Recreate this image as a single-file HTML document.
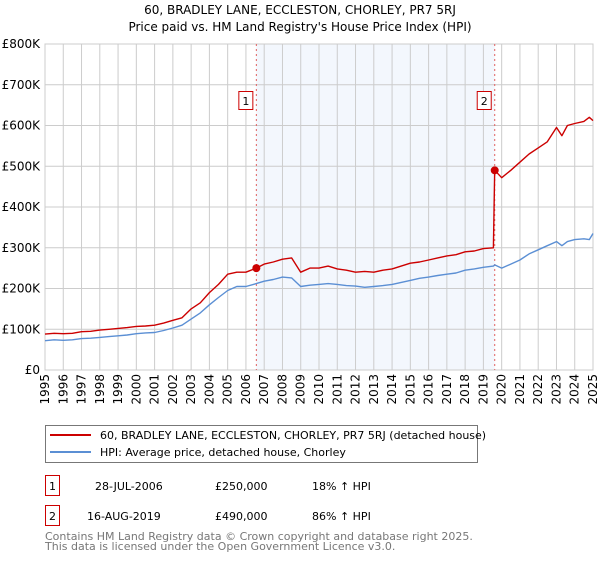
<!DOCTYPE html>
<html><head><meta charset="utf-8"><style>
body{margin:0;background:#fff;font-family:"DejaVu Sans","Liberation Sans",sans-serif;}
svg text{font-family:"DejaVu Sans","Liberation Sans",sans-serif;}
</style></head><body>
<svg id="chart" width="600" height="560" xmlns="http://www.w3.org/2000/svg">
<text x="300" y="14" text-anchor="middle" font-size="12">60, BRADLEY LANE, ECCLESTON, CHORLEY, PR7 5RJ</text>
<text x="300" y="31" text-anchor="middle" font-size="12">Price paid vs. HM Land Registry's House Price Index (HPI)</text>
<g id="plot"></g>
<g>
<rect x="45.5" y="425.5" width="432" height="37" fill="#fff" stroke="#777"/>
<line x1="50" y1="435" x2="91" y2="435" stroke="#cc0000" stroke-width="2"/>
<text x="100" y="439" font-size="11">60, BRADLEY LANE, ECCLESTON, CHORLEY, PR7 5RJ (detached house)</text>
<line x1="50" y1="452" x2="91" y2="452" stroke="#5b8fd4" stroke-width="2"/>
<text x="100" y="456" font-size="11">HPI: Average price, detached house, Chorley</text>
</g>
<g font-size="11">
<rect x="45.5" y="475.5" width="14" height="20" fill="#fff" stroke="#cc0000"/>
<text x="52.5" y="490" text-anchor="middle">1</text>
<text x="95" y="490">28-JUL-2006</text><text x="215" y="490">£250,000</text><text x="312" y="490">18% ↑ HPI</text>
</g>
<g font-size="11">
<rect x="45.5" y="505.5" width="14" height="20" fill="#fff" stroke="#cc0000"/>
<text x="52.5" y="520" text-anchor="middle">2</text>
<text x="87" y="520">16-AUG-2019</text><text x="215" y="520">£490,000</text><text x="312" y="520">86% ↑ HPI</text>
</g>
<text x="45" y="540" font-size="11" fill="#777">Contains HM Land Registry data © Crown copyright and database right 2025.</text>
<text x="45" y="550" font-size="11" fill="#777">This data is licensed under the Open Government Licence v3.0.</text>
</svg>
<script>
const years=[1995,1995.5,1996,1996.5,1997,1997.5,1998,1998.5,1999,1999.5,2000,2000.5,2001,2001.5,2002,2002.5,2003,2003.5,2004,2004.5,2005,2005.5,2006,2006.57,2007,2007.5,2008,2008.5,2009,2009.5,2010,2010.5,2011,2011.5,2012,2012.5,2013,2013.5,2014,2014.5,2015,2015.5,2016,2016.5,2017,2017.5,2018,2018.5,2019,2019.55,2019.62,2020,2020.5,2021,2021.5,2022,2022.5,2023,2023.3,2023.6,2024,2024.5,2024.8,2025];
const hpiValues=[72,74,73,74,77,78,80,82,84,86,89,91,92,97,103,110,125,140,160,178,195,205,205,212,218,222,228,226,205,208,210,212,210,207,206,203,205,207,210,215,220,225,228,232,235,238,245,248,252,255,258,250,260,270,285,295,305,315,305,315,320,322,320,335];
const priceValues=[88,90,89,90,94,95,98,100,102,104,107,108,110,115,122,128,150,165,190,210,235,240,240,250,260,265,272,275,240,250,250,255,248,245,240,242,240,245,248,255,262,265,270,275,280,283,290,292,298,300,490,472,490,510,530,545,560,595,575,600,605,610,620,612];
const sales=[{x:2006.57,v:250,label:"1"},{x:2019.62,v:490,label:"2"}];
const yTicks=[0,100,200,300,400,500,600,700,800];
const yTickLabels=["£0","£100K","£200K","£300K","£400K","£500K","£600K","£700K","£800K"];
const xTicks=[1995,1996,1997,1998,1999,2000,2001,2002,2003,2004,2005,2006,2007,2008,2009,2010,2011,2012,2013,2014,2015,2016,2017,2018,2019,2020,2021,2022,2023,2024,2025];
const L=45,R=593,T=44,B=370;
const xs=y=>L+(y-1995)/30*(R-L);
const ys=v=>B-v/800*(B-T);
const NS="http://www.w3.org/2000/svg";
const g=document.getElementById('plot');
function mk(tag,attrs,parent){const e=document.createElementNS(NS,tag);for(const k in attrs)e.setAttribute(k,attrs[k]);(parent||g).appendChild(e);return e;}
const shade=mk('rect',{x:xs(sales[0].x),y:T,width:xs(sales[1].x)-xs(sales[0].x),height:B-T,fill:'#f3f7fd'});


yTicks.forEach((t,i)=>{
 const l=mk('line',{x1:L,x2:R,y1:ys(t),y2:ys(t),stroke:'#ccc','stroke-width':1});
 
 
 const tx=mk('text',{x:40,y:ys(t)+4,'text-anchor':'end','font-size':12});
 tx.textContent=yTickLabels[i];
 
 
});
xTicks.forEach(t=>{
 const l=mk('line',{x1:xs(t),x2:xs(t),y1:T,y2:B,stroke:'#ccc','stroke-width':1});
 
 
 const tx=mk('text',{x:0,y:0,'text-anchor':'end','font-size':12,transform:`translate(${xs(t)+4},374) rotate(-90)`});
 tx.textContent=t;
 
 
});
const border=mk('rect',{x:L,y:T,width:R-L,height:B-T,fill:'none',stroke:'#ccc'});


sales.forEach(s=>{
 const l=mk('line',{x1:xs(s.x),x2:xs(s.x),y1:T,y2:B,stroke:'#e06060','stroke-width':1,'stroke-dasharray':'2,3'});
 
 
});
function path(vals,color,name){
 const d=vals.map((v,i)=>(i?'L':'M')+xs(years[i]).toFixed(1)+','+ys(v).toFixed(1)).join(' ');
 const p=mk('path',{d:d,fill:'none',stroke:color,'stroke-width':1.4,'stroke-linejoin':'round'});
 
 
}
path(hpiValues,'#5b8fd4','hpi-line');
path(priceValues,'#cc0000','price-line');
sales.forEach(s=>{
 const c=mk('circle',{cx:xs(s.x),cy:ys(s.v),r:4,fill:'#cc0000'});
 
 
 const bx=mk('rect',{x:xs(s.x)-17.5,y:91.5,width:14,height:18,fill:'#fff',stroke:'#cc0000'});
 
 
 const t=mk('text',{x:xs(s.x)-10.5,y:105,'text-anchor':'middle','font-size':11});
 t.textContent=s.label;
 
 
});
</script>
</body></html>
